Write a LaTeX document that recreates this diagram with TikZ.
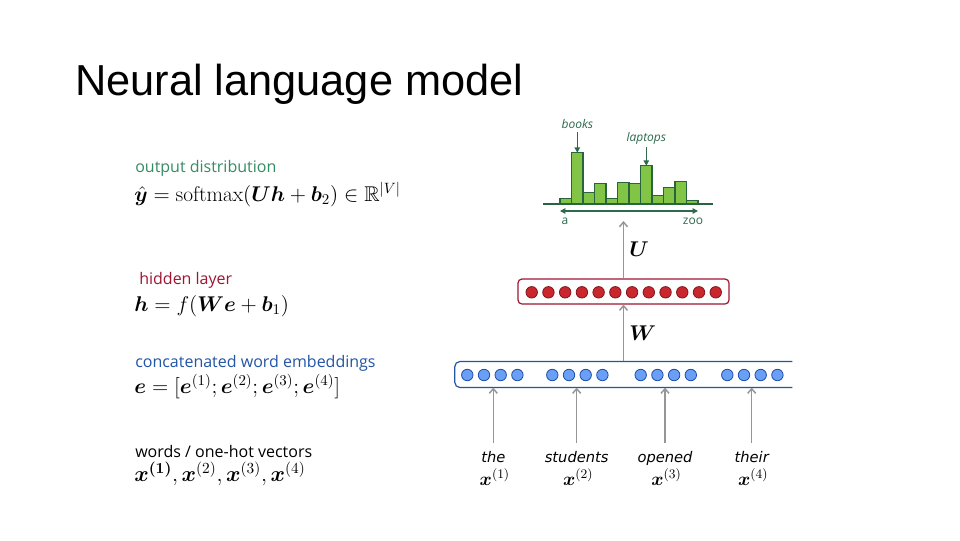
\documentclass[tikz,border=0pt]{standalone}
\usepackage{fix-cm}
\usepackage{amsmath}
\usepackage{amssymb}
\usepackage{bm}
\usepackage{fontspec}
\newfontfamily\titlefont{Liberation Sans}
\newfontfamily\labelfont{Open Sans}
\newfontfamily\wordfont{DejaVu Sans}
\usepackage{xcolor}
\usepackage{tikz}
\usetikzlibrary{arrows.meta, positioning, calc}

\newcommand{\eqsize}{\fontsize{16}{20}\selectfont}

\begin{document}
\begin{tikzpicture}[x=0.75pt, y=-0.75pt,
  lbl/.style={anchor=base west, inner sep=0pt, font=\labelfont\fontsize{12}{14}\selectfont},
  eqn/.style={anchor=base west, inner sep=0pt, font=\eqsize},
  word/.style={anchor=base, font=\wordfont\itshape\fontsize{11}{13}\selectfont, text height=8.3pt, inner ysep=6.5pt},
  histlbl/.style={font=\labelfont\itshape\fontsize{9}{11}\selectfont, text=histgreen, inner sep=2pt},
  redunit/.style={circle, draw=unitreddark, fill=unitred, line width=0.6pt, minimum size=8.6pt, inner sep=0pt},
  blueunit/.style={circle, draw=unitbluedark, fill=unitblue, line width=0.6pt, minimum size=8.6pt, inner sep=0pt},
  flow/.style={draw=arrowgray, line width=1.1pt, -{Straight Barb[length=3.5pt,width=6pt]}},
  pick/.style={draw=histgreen, line width=0.9pt, -{Triangle[length=4pt,width=4pt]}},
  bar/.style={draw=bardark, fill=barlight, line width=0.8pt}]
\definecolor{distgreen}{RGB}{52,140,100}
\definecolor{hidred}{RGB}{160,20,50}
\definecolor{embblue}{RGB}{35,85,165}
\definecolor{histgreen}{RGB}{45,105,75}
\definecolor{bardark}{RGB}{40,100,60}
\definecolor{barlight}{RGB}{130,197,70}
\definecolor{unitred}{RGB}{200,40,45}
\definecolor{unitreddark}{RGB}{130,20,25}
\definecolor{unitblue}{RGB}{105,160,245}
\definecolor{unitbluedark}{RGB}{30,75,170}
\definecolor{arrowgray}{RGB}{150,150,150}

\useasboundingbox[fill=white] (0,0) rectangle (960,540);

% Title
\node[anchor=base west, inner sep=0pt, font=\titlefont\fontsize{32.5}{36}\selectfont] (title) at (75,95) {Neural language model};

% Left column
\node[lbl, text=distgreen] (outlbl) at (135,172) {output distribution};
\node[eqn] (outeq) at (134,201.5) {$\hat{\bm{y}} = \mathrm{softmax}(\bm{U}\bm{h}+\bm{b}_2) \in \mathbb{R}^{|V|}$};
\node[lbl, text=hidred] (hidlbl) at (139,284) {hidden layer};
\node[eqn] (hideq) at (134,311) {$\bm{h} = f(\bm{W}\bm{e}+\bm{b}_1)$};
\node[lbl, text=embblue] (emblbl) at (135,367) {concatenated word embeddings};
\node[eqn] (embeq) at (134,393.5) {$\bm{e} = [\bm{e}^{(1)};\bm{e}^{(2)};\bm{e}^{(3)};\bm{e}^{(4)}]$};
\node[lbl] (wordlbl) at (135,457) {words / one-hot vectors};
\node[eqn, font=\fontsize{16.5}{20}\selectfont] (wordeq) at (134,481.5) {$\bm{x}^{\bm{(1)}}, \bm{x}^{(2)}, \bm{x}^{(3)}, \bm{x}^{(4)}$};

% Histogram
\foreach \h [count=\i from 0] in {6,51.5,12,21,6,22,21,38.5,9,17,23,4}
  \draw[bar] ({560+11.5*\i},204.3) rectangle ({571.5+11.5*\i},{204.3-\h});
\draw[bardark, line width=1.5pt] (543,204.3) -- (713,204.3);
\draw[histgreen, line width=0.9pt, {Triangle[length=4pt,width=4pt]}-{Triangle[length=4pt,width=4pt]}] (560,211) -- (698,211);
\node[font=\labelfont\fontsize{9}{11}\selectfont, text=histgreen] (first) at (565,221) {a};
\node[font=\labelfont\fontsize{9}{11}\selectfont, text=histgreen] (last) at (693,221) {zoo};
\node[histlbl] (books) at (577.3,124) {books};
\node[histlbl] (laptops) at (646.3,138) {laptops};
\coordinate (bookstop) at (577.3,152.8);
\coordinate (laptopstop) at (646.3,165.8);
\draw[pick] (books) -- (bookstop);
\draw[pick] (laptops) -- (laptopstop);

% Hidden layer
\node[draw=hidred, fill=white, rounded corners=3pt, line width=0.9pt, minimum width=158.25pt, minimum height=18.75pt] (hid) at (623.5,291.5) {};
\foreach \i in {0,...,11}
  \node[redunit] (h\i) at ({531.7+16.73*\i},292.3) {};

% Embeddings
\node[minimum width=252.75pt, minimum height=19.2pt, inner sep=0pt] (emb) at (623.5,374.5) {};
\draw[embblue, line width=0.9pt, rounded corners=4pt] (emb.north east) -- (emb.north west) -- (emb.south west) -- (emb.south east);
\foreach \g/\s in {1/467.3, 2/552.3, 3/640.7, 4/727.3}
  \foreach \k in {0,...,3}
    \node[blueunit] (e\g\k) at ({\s+16.7*\k},375) {};

% Weights
\coordinate (histin) at (623.5,221);
\draw[flow] (hid.north) -- (histin);
\node[eqn] (Ulbl) at (629,256) {$\bm{U}$};
\draw[flow] (emb.north) -- (hid.south);
\node[eqn] (Wlbl) at (629,340) {$\bm{W}$};

% Words
\foreach \i/\xx/\w in {1/493.3/the, 2/576.7/students, 3/665/opened, 4/751.7/their} {
  \node[word] (w\i) at (\xx,462.5) {\w};
  \node[eqn, anchor=base, font=\fontsize{14}{16}\selectfont] (x\i) at (\xx+1.5,485) {$\bm{x}^{(\i)}$};
  \draw[flow] (w\i.north) -- (w\i.north |- emb.south);
}

\end{tikzpicture}
\end{document}
